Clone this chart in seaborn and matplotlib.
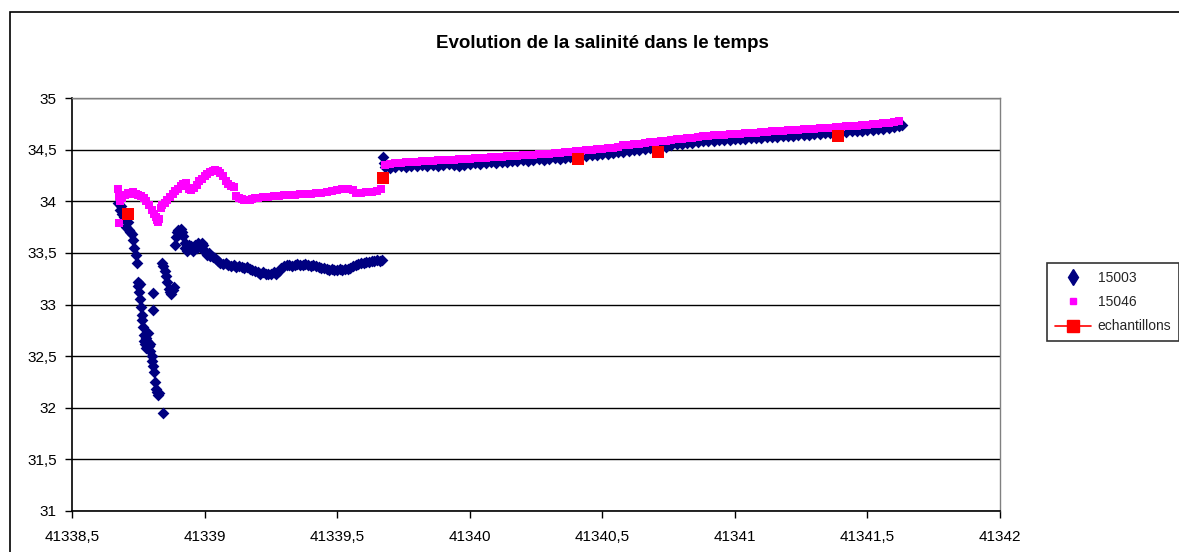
import matplotlib
matplotlib.use("Agg")
import matplotlib.pyplot as plt
import seaborn as sns
from matplotlib.lines import Line2D
from matplotlib.patches import Rectangle

# ---------------- data ----------------
title = "Evolution de la salinité dans le temps"
series_names = ["15003", "15046", "echantillons"]

x_15003 = [
    41338.675, 41338.680, 41338.685, 41338.690, 41338.695, 41338.700, 41338.705, 41338.710,
    41338.715, 41338.720, 41338.725, 41338.730, 41338.735, 41338.740, 41338.745, 41338.748,
    41338.750, 41338.753, 41338.755, 41338.758, 41338.760, 41338.763, 41338.765, 41338.768,
    41338.770, 41338.772, 41338.775, 41338.778, 41338.780, 41338.783, 41338.786, 41338.790,
    41338.793, 41338.796, 41338.800, 41338.803, 41338.804, 41338.807, 41338.806, 41338.810,
    41338.813, 41338.816, 41338.820, 41338.825, 41338.830, 41338.845,
    41338.840, 41338.845, 41338.850, 41338.855, 41338.860, 41338.865, 41338.870, 41338.875,
    41338.880, 41338.885,
    41338.890, 41338.893, 41338.896, 41338.900, 41338.905, 41338.910, 41338.915, 41338.920,
    41338.925, 41338.928, 41338.932, 41338.936, 41338.940, 41338.945, 41338.950, 41338.955,
    41338.960, 41338.965, 41338.970, 41338.975, 41338.980, 41338.985, 41338.990, 41338.995,
    41339.000, 41339.005, 41339.010, 41339.015, 41339.020, 41339.030, 41339.040, 41339.050,
    41339.060, 41339.070, 41339.080, 41339.090, 41339.100, 41339.110, 41339.120, 41339.130,
    41339.140, 41339.150, 41339.160, 41339.170, 41339.180, 41339.190, 41339.200, 41339.210,
    41339.220, 41339.230, 41339.240, 41339.250, 41339.260, 41339.270, 41339.280, 41339.290,
    41339.300, 41339.310, 41339.320, 41339.330, 41339.340, 41339.350, 41339.360, 41339.370,
    41339.380, 41339.390, 41339.400, 41339.410, 41339.420, 41339.430, 41339.440, 41339.450,
    41339.460, 41339.470, 41339.480, 41339.490, 41339.500, 41339.510, 41339.520, 41339.530,
    41339.540, 41339.550, 41339.560, 41339.570, 41339.580, 41339.590, 41339.600, 41339.610,
    41339.620, 41339.630, 41339.640, 41339.650, 41339.660, 41339.670,
    41339.672, 41339.676,
    41339.68, 41339.70, 41339.72, 41339.74, 41339.76, 41339.78, 41339.80, 41339.82,
    41339.84, 41339.86, 41339.88, 41339.90, 41339.92, 41339.94, 41339.96, 41339.98,
    41340.00, 41340.02, 41340.04, 41340.06, 41340.08, 41340.10, 41340.12, 41340.14,
    41340.16, 41340.18, 41340.20, 41340.22, 41340.24, 41340.26, 41340.28, 41340.30,
    41340.32, 41340.34, 41340.36, 41340.38, 41340.40, 41340.42, 41340.44, 41340.46,
    41340.48, 41340.50, 41340.52, 41340.54, 41340.56, 41340.58, 41340.60, 41340.62,
    41340.64, 41340.66, 41340.68, 41340.70, 41340.72, 41340.74, 41340.76, 41340.78,
    41340.80, 41340.82, 41340.84, 41340.86, 41340.88, 41340.90, 41340.92, 41340.94,
    41340.96, 41340.98, 41341.00, 41341.02, 41341.04, 41341.06, 41341.08, 41341.10,
    41341.12, 41341.14, 41341.16, 41341.18, 41341.20, 41341.22, 41341.24, 41341.26,
    41341.28, 41341.30, 41341.32, 41341.34, 41341.36, 41341.38, 41341.40, 41341.42,
    41341.44, 41341.46, 41341.48, 41341.50, 41341.52, 41341.54, 41341.56, 41341.58,
    41341.60, 41341.62, 41341.63,
]
y_15003 = [
    33.98, 33.92, 33.95, 33.88, 33.85, 33.82, 33.75, 33.80,
    33.72, 33.70, 33.68, 33.62, 33.55, 33.48, 33.40, 33.22,
    33.18, 33.12, 33.20, 33.05, 32.98, 32.90, 32.85, 32.78,
    32.70, 32.65, 32.62, 32.68, 32.58, 32.65, 32.72, 32.60,
    32.55, 32.62, 32.50, 32.45, 33.11, 32.95, 32.40, 32.35,
    32.25, 32.18, 32.15, 32.12, 32.14, 31.95,
    33.40, 33.37, 33.32, 33.28, 33.22, 33.15, 33.12, 33.10,
    33.14, 33.17,
    33.58, 33.65, 33.70, 33.72, 33.68, 33.73, 33.70, 33.66,
    33.60, 33.55, 33.52, 33.56, 33.58, 33.55, 33.57, 33.52,
    33.55, 33.58, 33.55, 33.60, 33.58, 33.55, 33.60, 33.58,
    33.52, 33.50, 33.48, 33.50, 33.47, 33.46, 33.45, 33.42,
    33.40, 33.39, 33.40, 33.38, 33.37, 33.38, 33.36, 33.37,
    33.36, 33.35, 33.36, 33.34, 33.33, 33.32, 33.31, 33.30,
    33.31, 33.30, 33.30, 33.30, 33.31, 33.30, 33.32, 33.35,
    33.37, 33.38, 33.38, 33.37, 33.38, 33.39, 33.38, 33.38,
    33.39, 33.38, 33.37, 33.38, 33.37, 33.36, 33.35, 33.35,
    33.34, 33.33, 33.34, 33.33, 33.33, 33.34, 33.33, 33.34,
    33.34, 33.35, 33.37, 33.38, 33.39, 33.40, 33.40, 33.41,
    33.41, 33.42, 33.42, 33.43, 33.42, 33.43,
    34.43, 34.37,
    34.33, 34.32, 34.33, 34.34, 34.33, 34.34, 34.34, 34.35,
    34.34, 34.35, 34.34, 34.35, 34.36, 34.35, 34.34, 34.35,
    34.36, 34.37, 34.36, 34.37, 34.38, 34.37, 34.38, 34.38,
    34.39, 34.39, 34.40, 34.39, 34.40, 34.41, 34.40, 34.41,
    34.42, 34.41, 34.42, 34.43, 34.43, 34.44, 34.44, 34.45,
    34.45, 34.46, 34.46, 34.47, 34.48, 34.48, 34.49, 34.50,
    34.50, 34.51, 34.52, 34.52, 34.53, 34.53, 34.54, 34.55,
    34.55, 34.56, 34.56, 34.57, 34.58, 34.58, 34.58, 34.59,
    34.59, 34.59, 34.60, 34.60, 34.60, 34.61, 34.61, 34.61,
    34.62, 34.62, 34.62, 34.63, 34.63, 34.63, 34.64, 34.64,
    34.64, 34.65, 34.65, 34.66, 34.66, 34.66, 34.67, 34.67,
    34.68, 34.68, 34.68, 34.69, 34.69, 34.70, 34.70, 34.71,
    34.72, 34.73, 34.74,
]

x_15046 = [
    41338.672, 41338.676, 41338.678, 41338.682, 41338.690, 41338.700, 41338.710, 41338.720,
    41338.730, 41338.740, 41338.750, 41338.760, 41338.770, 41338.780, 41338.790, 41338.800,
    41338.810, 41338.815, 41338.820, 41338.825, 41338.830, 41338.835, 41338.840, 41338.850,
    41338.860, 41338.870, 41338.880, 41338.890, 41338.900, 41338.910, 41338.920, 41338.930,
    41338.940, 41338.950, 41338.960, 41338.970, 41338.980, 41338.990, 41339.000, 41339.010,
    41339.020, 41339.030, 41339.040, 41339.050, 41339.060, 41339.070, 41339.080, 41339.090,
    41339.100, 41339.110, 41339.120, 41339.130, 41339.140, 41339.150, 41339.160, 41339.170,
    41339.180, 41339.190, 41339.200, 41339.220, 41339.240, 41339.260, 41339.280, 41339.300,
    41339.320, 41339.340, 41339.360, 41339.380, 41339.400, 41339.420, 41339.440, 41339.460,
    41339.480, 41339.500, 41339.520, 41339.540, 41339.560, 41339.570, 41339.590, 41339.610,
    41339.630, 41339.650, 41339.665,
    41339.68, 41339.70, 41339.72, 41339.74, 41339.76, 41339.78, 41339.80, 41339.82,
    41339.84, 41339.86, 41339.88, 41339.90, 41339.92, 41339.94, 41339.96, 41339.98,
    41340.00, 41340.02, 41340.04, 41340.06, 41340.08, 41340.10, 41340.12, 41340.14,
    41340.16, 41340.18, 41340.20, 41340.22, 41340.24, 41340.26, 41340.28, 41340.30,
    41340.32, 41340.34, 41340.36, 41340.38, 41340.40, 41340.42, 41340.44, 41340.46,
    41340.48, 41340.50, 41340.52, 41340.54, 41340.56, 41340.58, 41340.60, 41340.62,
    41340.64, 41340.66, 41340.68, 41340.70, 41340.72, 41340.74, 41340.76, 41340.78,
    41340.80, 41340.82, 41340.84, 41340.86, 41340.88, 41340.90, 41340.92, 41340.94,
    41340.96, 41340.98, 41341.00, 41341.02, 41341.04, 41341.06, 41341.08, 41341.10,
    41341.12, 41341.14, 41341.16, 41341.18, 41341.20, 41341.22, 41341.24, 41341.26,
    41341.28, 41341.30, 41341.32, 41341.34, 41341.36, 41341.38, 41341.40, 41341.42,
    41341.44, 41341.46, 41341.48, 41341.50, 41341.52, 41341.54, 41341.56, 41341.58,
    41341.60, 41341.62,
]
y_15046 = [
    34.12, 34.05, 33.79, 34.00, 34.03, 34.06, 34.08, 34.07,
    34.09, 34.07, 34.06, 34.05, 34.03, 34.00, 33.96, 33.92,
    33.88, 33.85, 33.82, 33.80, 33.83, 33.93, 33.96, 33.98,
    34.01, 34.04, 34.07, 34.10, 34.12, 34.15, 34.17, 34.18,
    34.12, 34.11, 34.13, 34.16, 34.20, 34.22, 34.24, 34.26,
    34.28, 34.29, 34.30, 34.29, 34.27, 34.24, 34.20, 34.17,
    34.15, 34.14, 34.05, 34.03, 34.02, 34.01, 34.01, 34.01,
    34.02, 34.03, 34.03, 34.04, 34.04, 34.05, 34.05, 34.06,
    34.06, 34.06, 34.07, 34.07, 34.07, 34.08, 34.08, 34.09,
    34.10, 34.11, 34.12, 34.12, 34.11, 34.08, 34.08, 34.09,
    34.09, 34.10, 34.12,
    34.35, 34.36, 34.37, 34.37, 34.38, 34.38, 34.38, 34.39,
    34.39, 34.39, 34.40, 34.40, 34.40, 34.40, 34.41, 34.41,
    34.41, 34.42, 34.42, 34.42, 34.43, 34.43, 34.43, 34.44,
    34.44, 34.44, 34.45, 34.45, 34.45, 34.46, 34.46, 34.46,
    34.47, 34.47, 34.48, 34.48, 34.49, 34.49, 34.50, 34.50,
    34.51, 34.51, 34.52, 34.52, 34.53, 34.54, 34.54, 34.55,
    34.55, 34.56, 34.57, 34.57, 34.58, 34.58, 34.59, 34.60,
    34.60, 34.61, 34.61, 34.62, 34.63, 34.63, 34.64, 34.64,
    34.64, 34.65, 34.65, 34.65, 34.66, 34.66, 34.66, 34.67,
    34.67, 34.68, 34.68, 34.68, 34.69, 34.69, 34.69, 34.70,
    34.70, 34.70, 34.71, 34.71, 34.71, 34.72, 34.72, 34.73,
    34.73, 34.73, 34.74, 34.74, 34.75, 34.75, 34.76, 34.76,
    34.77, 34.78,
]

x_samples = [41338.71, 41339.672, 41340.41, 41340.71, 41341.39]
y_samples = [33.88, 34.23, 34.41, 34.48, 34.63]

x_ticks = [41338.5, 41339.0, 41339.5, 41340.0, 41340.5, 41341.0, 41341.5, 41342.0]
x_tick_labels = ["41338,5", "41339", "41339,5", "41340", "41340,5", "41341", "41341,5", "41342"]
y_ticks = [31.0, 31.5, 32.0, 32.5, 33.0, 33.5, 34.0, 34.5, 35.0]
y_tick_labels = ["31", "31,5", "32", "32,5", "33", "33,5", "34", "34,5", "35"]

# ---------------- style ----------------
sns.set_style("white")
plt.rcParams["font.family"] = ["Liberation Sans", "DejaVu Sans"]

navy = "#000080"
magenta = "#FF00FF"
red = "#FF0000"

fig = plt.figure(figsize=(11.79, 5.52), dpi=100)
ax = fig.add_axes([72 / 1179, 1 - 511 / 552, (1000 - 72) / 1179, (511 - 98) / 552])

# outer chart-area border
fig.patches.append(Rectangle((10 / 1179, -0.05), 1.2, 1 - 12 / 552 + 0.05,
                             transform=fig.transFigure, fill=False,
                             edgecolor="black", linewidth=1.2, zorder=0))

sns.scatterplot(x=x_15003, y=y_15003, ax=ax, marker="D", s=36, color=navy,
                linewidth=0, legend=False, zorder=3)
sns.scatterplot(x=x_15046, y=y_15046, ax=ax, marker="s", s=38, color=magenta,
                linewidth=0, legend=False, zorder=4)
sns.scatterplot(x=x_samples, y=y_samples, ax=ax, marker="s", s=80, color=red,
                linewidth=0, legend=False, zorder=5)

ax.set_xlim(41338.5, 41342)
ax.set_ylim(31, 35)
ax.set_xticks(x_ticks)
ax.set_xticklabels(x_tick_labels)
ax.set_yticks(y_ticks)
ax.set_yticklabels(y_tick_labels)
ax.set_xlabel("")
ax.set_ylabel("")

ax.grid(axis="y", color="black", linewidth=1.0)
ax.grid(axis="x", visible=False)
ax.set_axisbelow(True)

for side in ["left", "bottom"]:
    ax.spines[side].set_color("black")
    ax.spines[side].set_linewidth(1.2)
for side in ["top", "right"]:
    ax.spines[side].set_visible(True)
    ax.spines[side].set_color("#808080")
    ax.spines[side].set_linewidth(1.0)

ax.tick_params(axis="both", which="major", direction="out", length=5, width=1,
               color="black", labelsize=11, labelcolor="black")
ax.tick_params(axis="x", pad=9, bottom=True)
ax.tick_params(axis="y", pad=6, left=True)

fig.text(602 / 1179, 1 - 44 / 552, title, ha="center", va="center",
         fontsize=13.5, fontweight="bold", color="black")

handles = [
    Line2D([], [], marker="d", linestyle="none", color=navy, markersize=8),
    Line2D([], [], marker="s", linestyle="none", color=magenta, markersize=4.5),
    Line2D([], [], marker="s", linestyle="-", color=red, markersize=9, linewidth=1.2),
]
leg = fig.legend(handles, series_names, loc="upper left",
                 bbox_to_anchor=(1047 / 1179, 1 - 263 / 552),
                 frameon=True, fancybox=False, fontsize=10,
                 handlelength=2.6, handletextpad=0.5, labelspacing=0.75,
                 borderpad=0.55, borderaxespad=0)
leg.get_frame().set_edgecolor("black")
leg.get_frame().set_linewidth(1.2)

fig.savefig("out.png", dpi=100)
